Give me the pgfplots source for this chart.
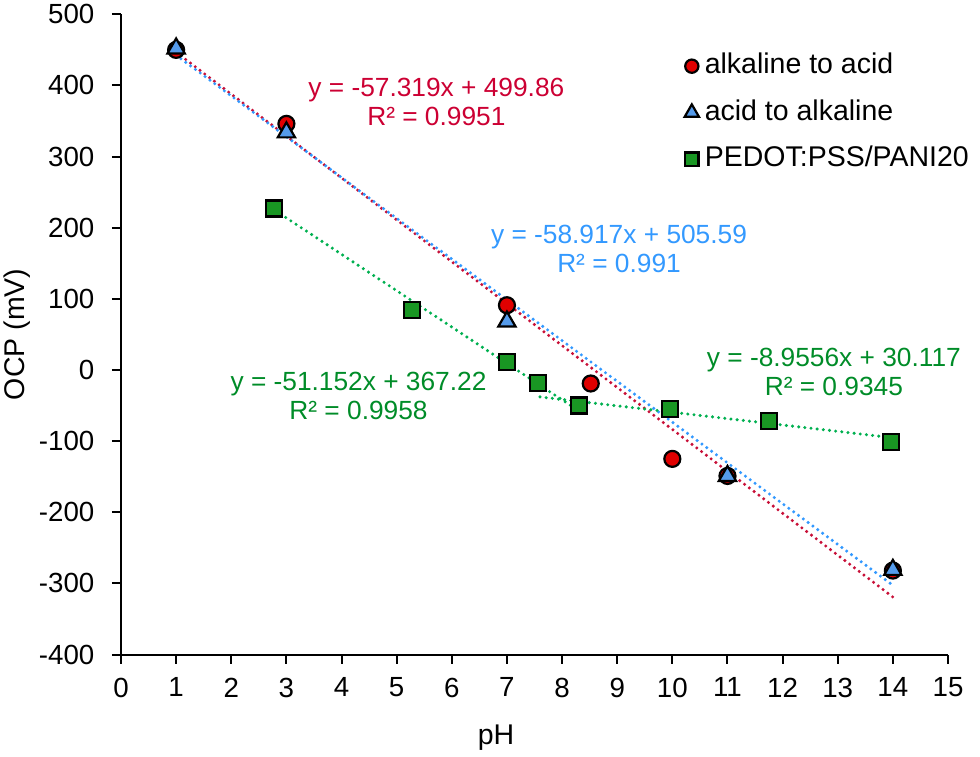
\documentclass[border=0pt]{standalone}
\usepackage{fontspec}
\setmainfont{Liberation Sans}
\usepackage{pgfplots}
\pgfplotsset{compat=1.18}
\definecolor{redline}{RGB}{200,16,56}
\definecolor{blueline}{RGB}{51,153,255}
\definecolor{greenline}{RGB}{0,176,80}
\definecolor{redtext}{RGB}{204,0,51}
\definecolor{bluetext}{RGB}{51,153,255}
\definecolor{greentext}{RGB}{0,140,40}
\definecolor{redfill}{RGB}{224,0,0}
\definecolor{bluefill}{RGB}{85,155,235}
\definecolor{greenfill}{RGB}{25,150,35}

\pgfplotstableread{
x y
1 450
3 346
7 91
8.52 -19
10 -125
11 -149
14 -282
}\alkacid
\pgfplotstableread{
x y
1 452
3 334
7 68
11 -149
14 -281
}\acidalk
\pgfplotstableread{
x y
2.78 227
5.28 84
7 11
7.57 -18
8.3 -50
9.96 -55
11.76 -72
13.96 -101
}\pedot

\begin{document}
\begin{tikzpicture}
\path[use as bounding box] (-60.5bp,-51.25bp) rectangle (429.5bp,327.25bp);
\begin{axis}[
  at={(0,0)}, anchor=south west,
  scale only axis, width=413.5bp, height=320.1bp,
  xmin=0, xmax=15, ymin=-400, ymax=500,
  axis x line=bottom, axis y line=left,
  axis line style={-, line width=1bp, black},
  xtick={0,1,2,3,4,5,6,7,8,9,10,11,12,13,14,15},
  xticklabels={0,1,2,3,4,5,6,7,8,9,10,11,12,13,14,15},
  ytick={-400,-300,-200,-100,0,100,200,300,400,500},
  yticklabels={-400,-300,-200,-100,0,100,200,300,400,500},
  tick align=outside, major tick length=4.5bp,
  tick style={line width=1bp, black},
  xticklabel style={font=\fontsize{13.9}{16}\selectfont, anchor=north, inner sep=0pt, yshift=-6.9bp},
  yticklabel style={font=\fontsize{13.9}{16}\selectfont, anchor=east, inner sep=0pt, xshift=-8.6bp},
  xlabel={pH}, ylabel={OCP (mV)},
  xlabel style={font=\fontsize{14.3}{16}\selectfont, at={(axis description cs:0.4535,-0.1297)}, anchor=center},
  ylabel style={font=\fontsize{14.3}{16}\selectfont, at={(axis description cs:-0.1252,0.5)}, anchor=center, rotate=0},
  legend style={draw=none, fill=none, inner sep=0pt, at={(axis cs:10.216,446.6)}, anchor=north west,
    font=\fontsize{14.3}{16}\selectfont, row sep=9.75bp, column sep=2.9bp,
    nodes={inner sep=0pt, text height=10.5bp, text depth=3bp}},
  legend cell align=left,
  legend image code/.code={\draw[#1, every mark/.append style={scale=0.83}] plot coordinates {(0bp,0bp)};},
  clip=false,
]
\addplot[only marks, mark=*, mark size=4bp, line width=1.1bp, draw=black, fill=redfill] table {\alkacid};
\addlegendentry{alkaline to acid}
\addplot[only marks, mark=triangle*, mark size=5bp, line width=1.1bp, draw=black, fill=bluefill] table {\acidalk};
\addlegendentry{acid to alkaline}
\addplot[only marks, mark=square*, mark size=4bp, line width=1.1bp, draw=black, fill=greenfill] table {\pedot};
\addlegendentry{PEDOT:PSS/PANI20}

% trend lines (end points)
\addplot[redline, line width=1.7bp, line cap=round, dash pattern=on 0bp off 3bp, forget plot] coordinates {(1,446.7) (14,-319.2)};
\addplot[blueline, line width=1.7bp, line cap=round, dash pattern=on 0bp off 3bp, forget plot] coordinates {(1,442.5) (14,-302.6)};
\addplot[greenline, line width=1.7bp, line cap=round, dash pattern=on 0bp off 3.1bp, forget plot] coordinates {(2.8,224.0) (8.3,-57.3)};
\addplot[greenline, line width=1.7bp, line cap=round, dash pattern=on 0bp off 3.1bp, forget plot] coordinates {(7.6,-37.9) (14,-95.3)};

\node[font=\fontsize{13.2}{14.5}\selectfont, text=redtext, align=center, inner sep=0pt] at (axis cs:5.72,376.8) {y = -57.319x + 499.86\\R² = 0.9951};
\node[font=\fontsize{13.2}{14.5}\selectfont, text=bluetext, align=center, inner sep=0pt] at (axis cs:9.033,170.1) {y = -58.917x + 505.59\\R² = 0.991};
\node[font=\fontsize{13.2}{14.5}\selectfont, text=greentext, align=center, inner sep=0pt] at (axis cs:4.308,-36.4) {y = -51.152x + 367.22\\R² = 0.9958};
\node[font=\fontsize{13.2}{14.5}\selectfont, text=greentext, align=center, inner sep=0pt] at (axis cs:12.93,-2.8) {y = -8.9556x + 30.117\\R² = 0.9345};
\end{axis}
\end{tikzpicture}
\end{document}
